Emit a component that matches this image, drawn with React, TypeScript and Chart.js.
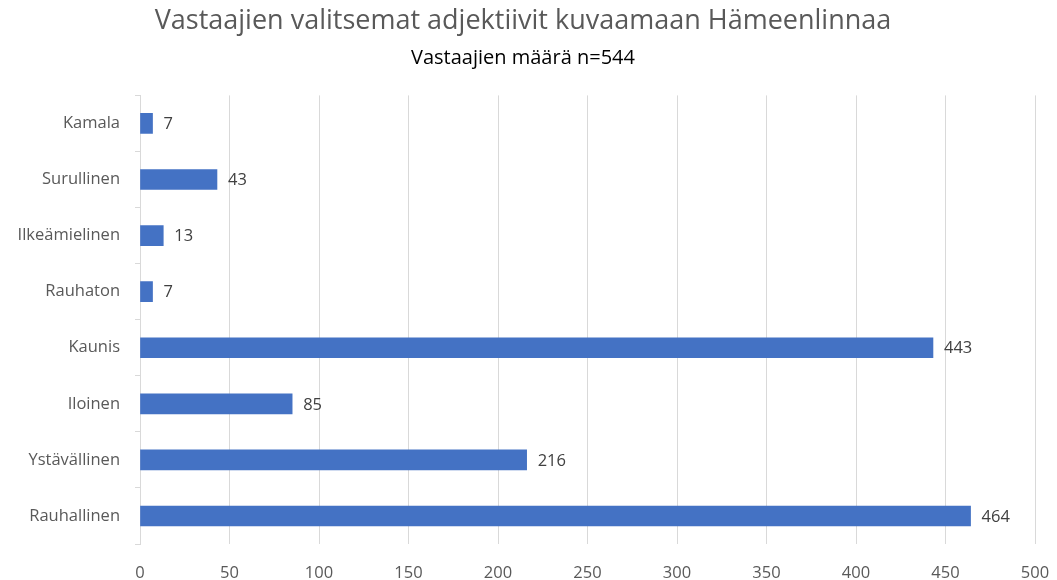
import React, { useEffect, useRef } from "react";
import { Chart, registerables } from "chart.js";

Chart.register(...registerables);

const categories = ["Kamala", "Surullinen", "Ilkeämielinen", "Rauhaton", "Kaunis", "Iloinen", "Ystävällinen", "Rauhallinen"];
const values = [7, 43, 13, 7, 443, 85, 216, 464];
const titleText = "Vastaajien valitsemat adjektiivit kuvaamaan Hämeenlinnaa";
const subtitleText = "Vastaajien määrä n=544";
const xMax = 500;
const xStep = 50;

const FONT = "'Open Sans', 'Noto Sans', sans-serif";

const valueLabels = {
  id: "valueLabels",
  afterDatasetsDraw(chart: any) {
    const ctx = chart.ctx;
    const meta = chart.getDatasetMeta(0);
    ctx.save();
    ctx.font = `16.5px ${FONT}`;
    ctx.fillStyle = "#404040";
    ctx.textAlign = "left";
    ctx.textBaseline = "middle";
    meta.data.forEach((bar: any, i: number) => {
      ctx.fillText(String(chart.data.datasets[0].data[i]), bar.x + 11, bar.y + 1);
    });
    ctx.restore();
  },
};

export default function App() {
  const ref = useRef<HTMLCanvasElement | null>(null);
  useEffect(() => {
    if (!ref.current) return;
    const chart = new Chart(ref.current, {
      type: "bar",
      data: {
        labels: categories,
        datasets: [
          {
            data: values,
            backgroundColor: "#4472C4",
            barThickness: 20,
          },
        ],
      },
      options: {
        indexAxis: "y",
        responsive: false,
        animation: false,
        layout: { padding: { left: 0, right: 11, top: 0, bottom: 0 } },
        plugins: {
          legend: { display: false },
          tooltip: { enabled: false },
          title: {
            display: true,
            text: titleText,
            color: "#595959",
            font: { family: FONT, size: 27, weight: "normal" },
            padding: { top: 5, bottom: 9 },
          },
          subtitle: {
            display: true,
            text: subtitleText,
            color: "#000000",
            font: { family: FONT, size: 20, weight: "normal" },
            padding: { top: 0, bottom: 25 },
          },
        },
        scales: {
          x: {
            min: 0,
            max: xMax,
            ticks: {
              stepSize: xStep,
              color: "#595959",
              font: { family: FONT, size: 16.5 },
              padding: 19,
            },
            grid: { color: "#d9d9d9", drawTicks: false },
            border: { display: false },
            afterFit(scale: any) {
              scale.height = 36;
              scale.paddingRight = 22;
              scale.paddingLeft = 0;
            },
          },
          y: {
            ticks: {
              color: "#595959",
              font: { family: FONT, size: 16.5 },
              padding: 15,
            },
            grid: {
              display: true,
              drawOnChartArea: false,
              drawTicks: true,
              tickLength: 5,
              color: "#d9d9d9",
            },
            border: { display: true, color: "#d9d9d9" },
            afterFit(scale: any) {
              scale.width = 140;
            },
          },
        },
      },
      plugins: [valueLabels],
    });
    return () => chart.destroy();
  }, []);
  return (
    <div style={{ position: "fixed", left: 0, top: 0, width: 1057, height: 580, background: "#fff" }}>
      <canvas ref={ref} width={1057} height={580} />
    </div>
  );
}
